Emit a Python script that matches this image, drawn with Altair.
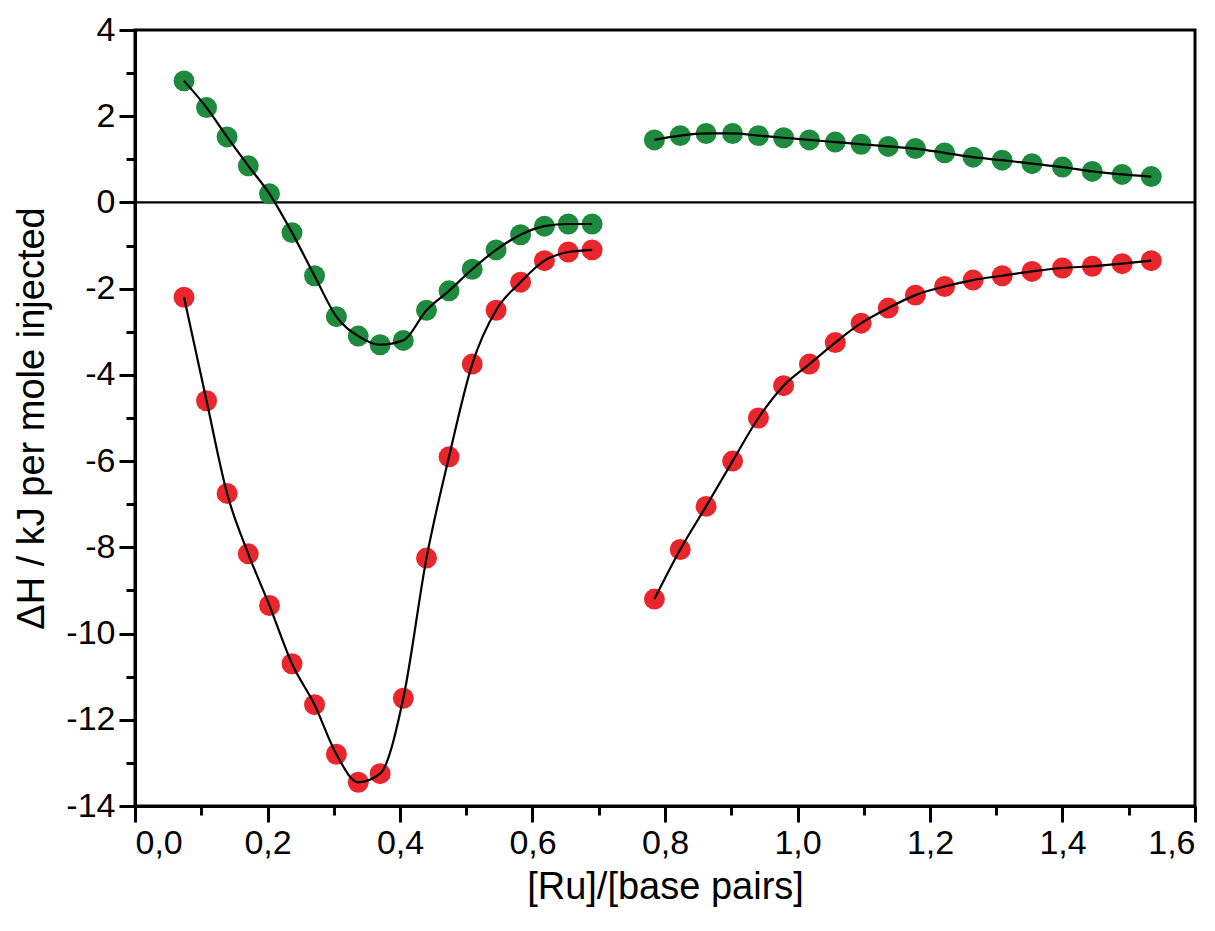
import altair as alt
import pandas as pd

xl = [0.074,0.108,0.139,0.171,0.203,0.237,0.271,0.304,0.337,0.37,0.405,0.44,0.474,0.509,0.545,0.582,0.618,0.654,0.69]
gl = [2.82,2.2,1.52,0.85,0.2,-0.7,-1.7,-2.65,-3.1,-3.3,-3.2,-2.5,-2.05,-1.55,-1.1,-0.75,-0.55,-0.5,-0.5]
rl = [-2.2,-4.6,-6.75,-8.15,-9.35,-10.7,-11.65,-12.8,-13.45,-13.25,-11.5,-8.25,-5.9,-3.75,-2.5,-1.85,-1.35,-1.15,-1.1]
xr = [0.784,0.823,0.862,0.902,0.941,0.979,1.018,1.057,1.096,1.137,1.178,1.222,1.265,1.309,1.354,1.4,1.445,1.49,1.534]
gr = [1.45,1.55,1.6,1.6,1.55,1.5,1.45,1.4,1.35,1.3,1.25,1.15,1.05,0.98,0.9,0.82,0.72,0.65,0.6]
rr = [-9.2,-8.05,-7.05,-6.0,-5.0,-4.25,-3.75,-3.25,-2.8,-2.45,-2.15,-1.95,-1.8,-1.7,-1.6,-1.52,-1.48,-1.42,-1.35]

rows = []
for seg, xs, ys, c in [("gl", xl, gl, "g"), ("rl", xl, rl, "r"), ("gr", xr, gr, "g"), ("rr", xr, rr, "r")]:
    for x, y in zip(xs, ys):
        rows.append({"x": x, "y": y, "seg": seg, "c": c})
df = pd.DataFrame(rows)

F = "Liberation Sans"
xs = alt.Scale(domain=[0, 1.6], nice=False)
ys = alt.Scale(domain=[-14, 4], nice=False)
xmajor = "round(datum.value*10)%2==0"
ymajor = "datum.value%2==0"
xaxis = alt.Axis(values=[i / 10 for i in range(17)], title="[Ru]/[base pairs]",
                 labelExpr=xmajor + " ? replace(format(datum.value,'.1f'),'.',',') : ''",
                 tickSize={"condition": {"test": xmajor, "value": 16}, "value": 9},
                 titlePadding=8)
yaxis = alt.Axis(values=list(range(-14, 5)), title="ΔH / kJ per mole injected",
                 labelExpr=ymajor + " ? (datum.value<0 ? '-' + format(-datum.value,'d') : format(datum.value,'d')) : ''",
                 tickSize={"condition": {"test": ymajor, "value": 16}, "value": 9},
                 titlePadding=14)

base = alt.Chart(df)
lines = base.mark_line(color="black", strokeWidth=2.2, interpolate="monotone").encode(
    x=alt.X("x:Q", scale=xs, axis=xaxis), y=alt.Y("y:Q", scale=ys, axis=yaxis), detail="seg:N")
pts = base.mark_circle(size=440, opacity=1).encode(
    x="x:Q", y="y:Q",
    color=alt.Color("c:N", scale=alt.Scale(domain=["g", "r"], range=["#1e8a3e", "#e8262c"]), legend=None))
zero = alt.Chart(pd.DataFrame({"y": [0]})).mark_rule(color="black", strokeWidth=2.2).encode(y="y:Q")

chart = alt.layer(zero, pts, lines).properties(
    width=1060, height=776, background="white"
).configure_view(stroke="black", strokeWidth=3).configure_axis(
    grid=False, tickColor="black", domainColor="black", tickWidth=3, domainWidth=3,
    labelFontSize=34, titleFontSize=38, labelFont=F, titleFont=F, labelColor="black",
    titleColor="black", titleFontWeight="normal", labelPadding=4)
chart.save("out.html", embed_options={"renderer": "svg", "actions": False})
